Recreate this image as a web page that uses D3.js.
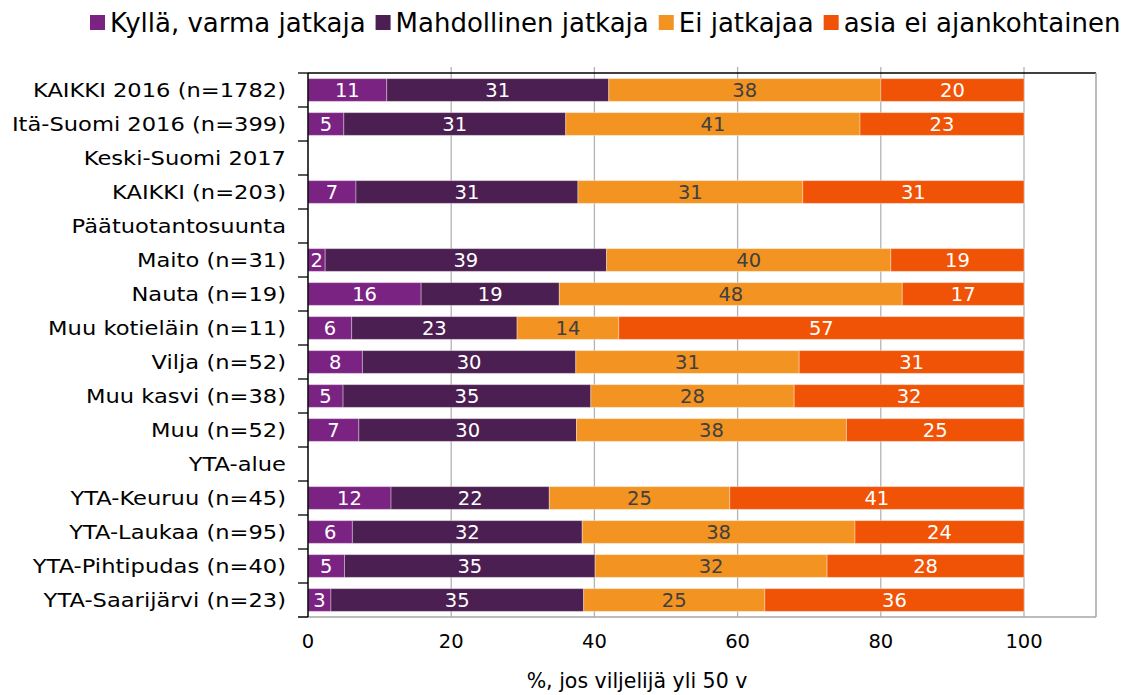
<!DOCTYPE html>
<html>
<head>
<meta charset="utf-8">
<script src="https://cdn.jsdelivr.net/npm/d3@7"></script>
<style>
  body { margin: 0; background: #fff; }
  text { font-family: "DejaVu Sans", Verdana, sans-serif; }
</style>
</head>
<body>
<div id="chart"></div>
<script>
var categories = [
  "KAIKKI 2016 (n=1782)", "Itä-Suomi 2016 (n=399)", "Keski-Suomi 2017", "KAIKKI (n=203)",
  "Päätuotantosuunta", "Maito (n=31)", "Nauta (n=19)", "Muu kotieläin (n=11)",
  "Vilja (n=52)", "Muu kasvi (n=38)", "Muu (n=52)", "YTA-alue",
  "YTA-Keuruu (n=45)", "YTA-Laukaa (n=95)", "YTA-Pihtipudas (n=40)", "YTA-Saarijärvi (n=23)"
];
var seriesNames = ["Kyllä, varma jatkaja", "Mahdollinen jatkaja", "Ei jatkajaa", "asia ei ajankohtainen"];
var kylla       = [11.0, 5.0, null, 6.7, null, 2.4, 15.8, 6.1, 7.6, 4.9, 7.1, null, 11.6, 6.2, 5.1, 3.2];
var mahdollinen = [31.0, 31.0, null, 31.0, null, 39.3, 19.3, 23.1, 29.8, 34.6, 30.4, null, 22.1, 32.1, 35.0, 35.3];
var eiJatkajaa  = [38.0, 41.1, null, 31.4, null, 39.7, 47.9, 14.2, 31.2, 28.4, 37.7, null, 25.2, 38.1, 32.4, 25.3];
var asiaEi      = [20.0, 22.9, null, 30.9, null, 18.6, 17.0, 56.6, 31.4, 32.1, 24.8, null, 41.1, 23.6, 27.5, 36.2];
var xTicks = [0, 20, 40, 60, 80, 100];

var colors = ["#7b2382", "#4b1f51", "#f39321", "#f05306"];
var labelColors = ["#fff", "#fff", "#404040", "#fff"];

var width = 1138, height = 695;
var plotLeft = 308, plotRight = 1096, plotTop = 73, plotBottom = 617;

var svg = d3.select("#chart").append("svg")
  .attr("width", width)
  .attr("height", height);

var x = d3.scaleLinear().domain([0, 100]).range([plotLeft, 1024]);
var y = d3.scaleBand().domain(categories).range([plotTop, plotBottom])
  .paddingInner(0.33).paddingOuter(0.165);

var values = [kylla, mahdollinen, eiJatkajaa, asiaEi];
var rows = categories.map(function(c, i) {
  var start = 0;
  var segs = [];
  values.forEach(function(arr, s) {
    if (arr[i] === null) return;
    segs.push({ cat: c, s: s, x0: start, x1: start + arr[i], v: arr[i] });
    start += arr[i];
  });
  return segs;
});
var segments = d3.merge(rows);

// gridlines
svg.append("g").selectAll("line")
  .data(xTicks.filter(function(d) { return d > 0; }))
  .enter().append("line")
  .attr("x1", function(d) { return x(d); })
  .attr("x2", function(d) { return x(d); })
  .attr("y1", plotTop - 6)
  .attr("y2", plotBottom)
  .attr("stroke", "#b3b3b3")
  .attr("stroke-width", 1.3);

// frame
svg.append("line").attr("x1", plotLeft).attr("x2", plotRight).attr("y1", plotTop).attr("y2", plotTop)
  .attr("stroke", "#000").attr("stroke-width", 1.5);
svg.append("line").attr("x1", plotRight).attr("x2", plotRight).attr("y1", plotTop).attr("y2", plotBottom)
  .attr("stroke", "#a6a6a6").attr("stroke-width", 1.5);
svg.append("line").attr("x1", plotLeft - 10).attr("x2", plotRight).attr("y1", plotBottom).attr("y2", plotBottom)
  .attr("stroke", "#a6a6a6").attr("stroke-width", 1.5);

// bars
svg.append("g").selectAll("rect")
  .data(segments)
  .enter().append("rect")
  .attr("x", function(d) { return x(d.x0); })
  .attr("width", function(d) { return x(d.x1) - x(d.x0); })
  .attr("y", function(d) { return y(d.cat); })
  .attr("height", y.bandwidth())
  .attr("fill", function(d) { return colors[d.s]; })
  .attr("stroke", "rgba(255,255,255,0.35)")
  .attr("stroke-width", 1);

svg.append("g").selectAll("text")
  .data(segments)
  .enter().append("text")
  .attr("x", function(d) { return x((d.x0 + d.x1) / 2); })
  .attr("y", function(d) { return y(d.cat) + y.bandwidth() / 2; })
  .attr("dy", "0.36em")
  .attr("text-anchor", "middle")
  .attr("font-size", 19.5)
  .attr("fill", function(d) { return labelColors[d.s]; })
  .text(function(d) { return Math.round(d.v); });

// y axis
var yAxis = svg.append("g")
  .attr("transform", "translate(" + plotLeft + ",0)");
yAxis.append("line").attr("x1", 0).attr("x2", 0).attr("y1", plotTop).attr("y2", plotBottom)
  .attr("stroke", "#000").attr("stroke-width", 1.5);
var bounds = categories.map(function(c) { return y(c) - y.step() * y.paddingInner() / 2; });
bounds.push(plotBottom);
yAxis.selectAll(".tk").data(bounds).enter().append("line")
  .attr("x1", -10).attr("x2", 0)
  .attr("y1", function(d) { return d; })
  .attr("y2", function(d) { return d; })
  .attr("stroke", "#000").attr("stroke-width", 1.3);
// labels are a bit wider in the original, stretch them sideways
yAxis.selectAll("text").data(categories).enter().append("text")
  .attr("transform", function(d) {
    return "translate(-22," + (y(d) + y.bandwidth() / 2) + ") scale(1.13,1)";
  })
  .attr("dy", "0.36em")
  .attr("text-anchor", "end")
  .attr("font-size", 20)
  .attr("fill", "#000")
  .text(function(d) { return d; });

// x axis labels
svg.append("g").selectAll("text").data(xTicks).enter().append("text")
  .attr("x", function(d) { return x(d); })
  .attr("y", 641)
  .attr("dy", "0.36em")
  .attr("text-anchor", "middle")
  .attr("font-size", 19.5)
  .attr("fill", "#000")
  .text(function(d) { return d; });

svg.append("text")
  .attr("x", 637)
  .attr("y", 681)
  .attr("dy", "0.36em")
  .attr("text-anchor", "middle")
  .attr("font-size", 20.5)
  .attr("fill", "#000")
  .text("%, jos viljelijä yli 50 v");

// legend
var legend = svg.append("g");
var lx = 90;
seriesNames.forEach(function(name, i) {
  legend.append("rect")
    .attr("x", lx).attr("y", 15).attr("width", 15).attr("height", 15)
    .attr("fill", colors[i]);
  var t = legend.append("text")
    .attr("x", lx + 20)
    .attr("y", 23)
    .attr("dy", "0.36em")
    .attr("font-size", 26)
    .attr("fill", "#000")
    .text(name);
  lx += 20 + t.node().getComputedTextLength() + 10;
});
</script>
</body>
</html>
